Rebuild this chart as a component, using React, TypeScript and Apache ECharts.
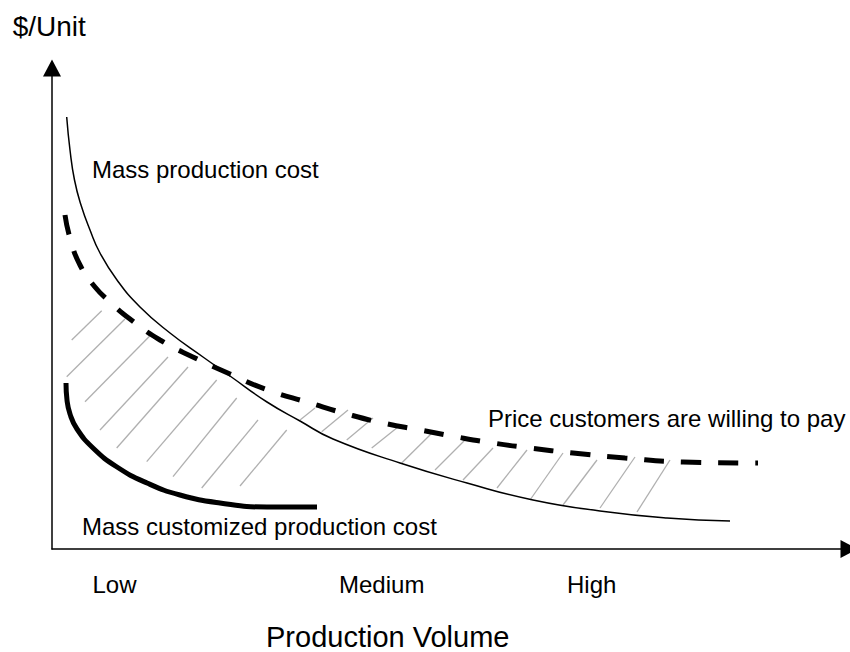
import React, { useEffect, useRef } from "react";
import * as echarts from "echarts";

// Data coordinates: x = production volume (arbitrary units), y = $/unit (arbitrary units)
const massProductionX = [14.7, 18, 22.5, 29, 38, 48, 65, 88, 118, 151, 178, 215, 248, 281, 348, 415, 481, 548, 615, 678];
const massProductionY = [432, 399, 369, 344, 319, 296, 269, 242, 216, 192, 173, 147, 128, 110, 86, 66, 49, 38, 31, 28];

const priceX = [13, 18, 28, 43, 58, 78, 108, 143, 178, 213, 258, 295, 331, 368, 405, 441, 478, 521, 573, 631, 706];
const priceY = [334, 311, 284, 262, 247, 230, 209, 191, 175, 160, 146, 135, 126, 119, 112, 106, 101, 96, 91, 87, 86];

const customizedX = [14, 15, 18, 25, 41, 65, 95, 128, 168, 215, 265];
const customizedY = [166, 149, 135, 120, 101, 82, 66, 54, 46, 42, 42];

// Hatch segments [x1, y1, x2, y2]
const hatchSegments: number[][] = [
  [19.7, 209, 49.7, 238.3],
  [14.7, 172.3, 73, 230],
  [33, 147.3, 99.7, 215],
  [48, 119, 116, 192],
  [64.7, 101, 136, 182],
  [94.7, 87.3, 164.7, 169],
  [121, 72.3, 184.7, 151],
  [149.7, 61, 206, 129],
  [188, 63, 234.7, 119],
  [248, 129, 263, 141],
  [269.7, 117.3, 296, 139],
  [294.7, 109, 321, 131],
  [319.7, 101, 346, 122],
  [349.7, 86, 381, 117],
  [383, 79, 415, 111],
  [411, 69, 441, 101],
  [445, 61, 475, 99],
  [478, 49, 511, 96],
  [511, 44, 545, 89],
  [548, 41, 583, 92],
  [585, 37, 618, 89],
];

const xTickLabels = ["Low", "Medium", "High"];
const xTickValues = [62.5, 329.7, 539.7];

const zip = (xs: number[], ys: number[]) => xs.map((x, i) => [x, ys[i]]);

const FONT = "Liberation Sans, Arial, sans-serif";

export default function App() {
  const ref = useRef<HTMLDivElement>(null);
  useEffect(() => {
    document.body.style.margin = "0";
    const chart = echarts.init(ref.current!, null, { renderer: "svg" });
    const axisLine = {
      show: true,
      symbol: ["none", "triangle"],
      symbolSize: [18, 17],
      lineStyle: { color: "#000", width: 1.5 },
    };
    chart.setOption({
      animation: false,
      backgroundColor: "#fff",
      grid: { left: 52, right: 1, top: 68, bottom: 103 },
      xAxis: {
        type: "value",
        min: 0,
        max: 797,
        axisLine,
        axisTick: { show: false },
        splitLine: { show: false },
        axisLabel: {
          customValues: xTickValues,
          formatter: (v: number) => {
            const i = xTickValues.findIndex((t) => Math.abs(t - v) < 0.01);
            return i >= 0 ? xTickLabels[i] : "";
          },
          fontSize: 24,
          fontFamily: FONT,
          color: "#000",
          margin: 23,
        },
      },
      yAxis: {
        type: "value",
        min: 0,
        max: 481,
        axisLine,
        axisTick: { show: false },
        splitLine: { show: false },
        axisLabel: { show: false },
      },
      series: [
        {
          type: "custom",
          silent: true,
          z: 1,
          encode: { x: [0, 2], y: [1, 3] },
          data: hatchSegments,
          renderItem: (params: any, api: any) => {
            const p1 = api.coord([api.value(0), api.value(1)]);
            const p2 = api.coord([api.value(2), api.value(3)]);
            return {
              type: "line",
              shape: { x1: p1[0], y1: p1[1], x2: p2[0], y2: p2[1] },
              style: { stroke: "#b0b0b0", lineWidth: 1.3 },
            };
          },
        },
        {
          type: "line",
          name: "Mass production cost",
          data: zip(massProductionX, massProductionY),
          smooth: 0.5,
          symbol: "none",
          z: 3,
          lineStyle: { color: "#000", width: 1.5 },
        },
        {
          type: "line",
          name: "Price customers are willing to pay",
          data: zip(priceX, priceY),
          smooth: 0.5,
          symbol: "none",
          z: 3,
          lineStyle: { color: "#000", width: 5, type: [20, 17], cap: "butt" },
        },
        {
          type: "line",
          name: "Mass customized production cost",
          data: zip(customizedX, customizedY),
          smooth: 0.5,
          symbol: "none",
          z: 3,
          lineStyle: { color: "#000", width: 5 },
        },
      ],
      graphic: [
        { type: "text", x: 12.7, y: 26, style: { text: "$/Unit", fontSize: 28, fontFamily: FONT, fill: "#000", align: "left", verticalAlign: "middle" } },
        { type: "text", x: 92, y: 169, style: { text: "Mass production cost", fontSize: 24, fontFamily: FONT, fill: "#000", align: "left", verticalAlign: "middle" } },
        { type: "text", x: 488, y: 418, style: { text: "Price customers are willing to pay", fontSize: 24, fontFamily: FONT, fill: "#000", align: "left", verticalAlign: "middle" } },
        { type: "text", x: 82, y: 526, style: { text: "Mass customized production cost", fontSize: 24, fontFamily: FONT, fill: "#000", align: "left", verticalAlign: "middle" } },
        { type: "text", x: 266, y: 637, style: { text: "Production Volume", fontSize: 29, fontFamily: FONT, fill: "#000", align: "left", verticalAlign: "middle" } },
      ],
    });
    return () => chart.dispose();
  }, []);
  return (
    <div
      ref={ref}
      style={{ position: "absolute", left: 0, top: 0, width: 850, height: 652 }}
    />
  );
}
